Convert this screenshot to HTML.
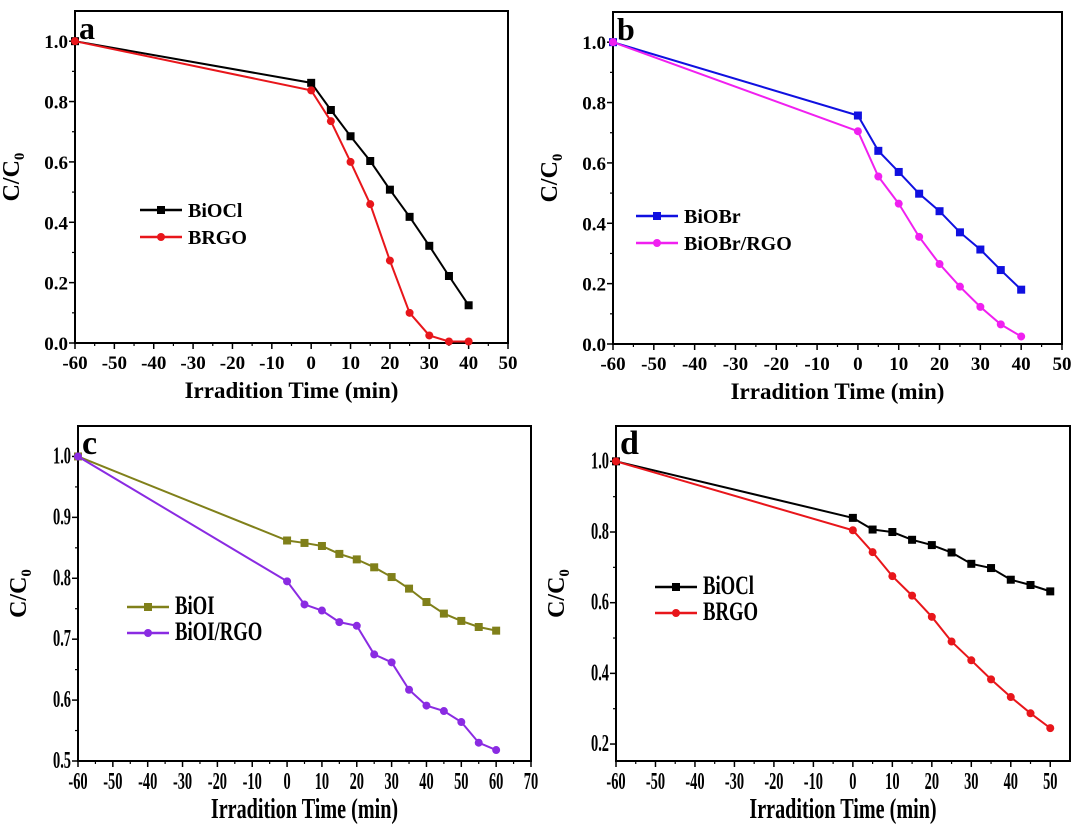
<!DOCTYPE html>
<html><head><meta charset="utf-8"><style>
html,body{margin:0;padding:0;background:#fff;}
svg{display:block;font-family:"Liberation Serif",serif;font-weight:bold;}
</style></head><body>
<svg id="fig" width="1080" height="826" viewBox="0 0 1080 826" xmlns="http://www.w3.org/2000/svg"></svg>
<script>
const xA=[-60,0,5,10,15,20,25,30,35,40];
const aBiOCl=[1,.862,.772,.685,.603,.508,.418,.322,.222,.125];
const aBRGO=[1,.837,.735,.6,.46,.273,.1,.025,.005,.005];
const bBiOBr=[1,.757,.64,.57,.498,.44,.37,.313,.245,.18];
const bBiOBrRGO=[1,.705,.555,.465,.355,.265,.19,.123,.065,.025];
const xC=[-60,0,5,10,15,20,25,30,35,40,45,50,55,60];
const cBiOI=[1,.862,.858,.853,.84,.831,.818,.802,.783,.761,.742,.73,.72,.714];
const cBiOIRGO=[1,.795,.757,.747,.728,.722,.675,.662,.617,.591,.582,.564,.53,.518];
const xD=[-60,0,5,10,15,20,25,30,35,40,45,50];
const dBiOCl=[1,.84,.807,.8,.778,.763,.742,.71,.698,.665,.65,.632];
const dBRGO=[1,.805,.743,.675,.62,.56,.49,.437,.383,.333,.287,.245];
const xTicksAB=[-60,-50,-40,-30,-20,-10,0,10,20,30,40,50];
const xTicksC=[-60,-50,-40,-30,-20,-10,0,10,20,30,40,50,60,70];
const xTicksD=[-60,-50,-40,-30,-20,-10,0,10,20,30,40,50];
const yTicksAB=[0,0.2,0.4,0.6,0.8,1.0];
const yTicksC=[0.5,0.6,0.7,0.8,0.9,1.0];
const yTicksD=[0.2,0.4,0.6,0.8,1.0];

const NS="http://www.w3.org/2000/svg";
const svg=document.getElementById('fig');
function mk(tag,attrs,parent,text){const e=document.createElementNS(NS,tag);for(const k in attrs)e.setAttribute(k,attrs[k]);if(text!==undefined)e.textContent=text;(parent||svg).appendChild(e);return e;}

function panel(p){
  const g=mk('g',{});
  
  
  const sx=v=>p.x0+(v-p.xmin)/(p.xmax-p.xmin)*(p.x1-p.x0);
  const sy=v=>p.y1-(v-p.ymin)/(p.ymax-p.ymin)*(p.y1-p.y0);
  const fr=mk('rect',{x:p.x0,y:p.y0,width:p.x1-p.x0,height:p.y1-p.y0,fill:'none',stroke:'#000','stroke-width':2},g);
  
  
  const sc=p.cond?'scale(0.6,1)':'';
  p.xt.forEach((t,i)=>{
    const x=sx(t);
    mk('line',{x1:x,x2:x,y1:p.y1,y2:p.y1+6,stroke:'#000','stroke-width':1.5},g);
    if(i<p.xt.length-1){const xm=sx(t+5);mk('line',{x1:xm,x2:xm,y1:p.y1,y2:p.y1+3,stroke:'#000','stroke-width':1.2},g);}
    const tx=mk('text',{x:0,y:0,'font-size':p.fs,'text-anchor':'middle',transform:`translate(${x},${p.y1+(p.cond?28:26)}) ${sc}`},g,String(t));
    
    
  });
  p.yt.forEach((t,i)=>{
    const y=sy(t);
    mk('line',{x1:p.x0,x2:p.x0-6,y1:y,y2:y,stroke:'#000','stroke-width':1.5},g);
    const ym=sy(t+p.ystep/2);
    if(ym>p.y0)mk('line',{x1:p.x0,x2:p.x0-3,y1:ym,y2:ym,stroke:'#000','stroke-width':1.2},g);
    const tx=mk('text',{x:0,y:0,'font-size':p.fs,'text-anchor':'end',transform:`translate(${p.x0-7},${y+7}) ${sc}`},g,t.toFixed(1));
    
    
  });
  const xt=mk('text',{x:0,y:0,'font-size':p.cond?28:23,'text-anchor':'middle',transform:`translate(${(p.x0+p.x1)/2},${p.y1+(p.cond?57:55)}) ${p.cond?'scale(0.72,1)':''}`},g,'Irradition Time (min)');
  
  
  const yt=mk('text',{x:0,y:0,'font-size':24,'text-anchor':'middle',transform:`translate(${p.x0-(p.cond?52:56)},${(p.y0+p.y1)/2}) rotate(-90)`},g);
  
  
  mk('tspan',{},yt,'C/C');mk('tspan',{'font-size':15,dy:5},yt,'0');
  const lt=mk('text',{x:p.x0+4,y:p.y0+28,'font-size':p.cond?34:32},g,p.letter);
  
  
  p.series.forEach((s,k)=>{
    const pts=s.ys.map((v,i)=>sx(p.xs[i])+','+sy(v)).join(' ');
    const pl=mk('polyline',{points:pts,fill:'none',stroke:s.c,'stroke-width':2},g);
    
    
    s.ys.forEach((v,i)=>{
      const x=sx(p.xs[i]),y=sy(v);
      const m=s.sq?mk('rect',{x:x-4,y:y-4,width:8,height:8,fill:s.c},g):mk('circle',{cx:x,cy:y,r:4,fill:s.c},g);
      
      
    });
    const ly=p.ly+k*p.lgap;
    mk('line',{x1:p.lx,x2:p.lx+42,y1:ly,y2:ly,stroke:s.c,'stroke-width':2.5},g);
    if(s.sq)mk('rect',{x:p.lx+17,y:ly-4,width:8,height:8,fill:s.c},g);else mk('circle',{cx:p.lx+21,cy:ly,r:4,fill:s.c},g);
    const le=mk('text',{x:0,y:0,'font-size':p.cond?26:20,transform:`translate(${p.lx+48},${ly+7}) ${p.cond?'scale(0.72,1)':''}`},g,s.n);
    
    
  });
}
panel({letter:'a',x0:75,x1:508,y0:11,y1:343,xmin:-60,xmax:50,ymin:0,ymax:1.1,ystep:0.2,xt:xTicksAB,yt:yTicksAB,fs:19,xs:xA,
  lx:140,ly:210,lgap:27,series:[{n:'BiOCl',ys:aBiOCl,c:'#000',sq:true},{n:'BRGO',ys:aBRGO,c:'#e8161b'}]});
panel({letter:'b',x0:613,x1:1062,y0:12,y1:344,xmin:-60,xmax:50,ymin:0,ymax:1.1,ystep:0.2,xt:xTicksAB,yt:yTicksAB,fs:19,xs:xA,
  lx:636,ly:216,lgap:27,series:[{n:'BiOBr',ys:bBiOBr,c:'#1010e0',sq:true},{n:'BiOBr/RGO',ys:bBiOBrRGO,c:'#f020f0'}]});
panel({letter:'c',x0:78,x1:531,y0:426,y1:761,xmin:-60,xmax:70,ymin:0.5,ymax:1.05,ystep:0.1,xt:xTicksC,yt:yTicksC,fs:24,cond:true,xs:xC,
  lx:127,ly:607,lgap:26,series:[{n:'BiOI',ys:cBiOI,c:'#80801a',sq:true},{n:'BiOI/RGO',ys:cBiOIRGO,c:'#8a2be2'}]});
panel({letter:'d',x0:616,x1:1070,y0:426,y1:761,xmin:-60,xmax:55,ymin:0.152,ymax:1.1,ystep:0.2,xt:xTicksD,yt:yTicksD,fs:24,cond:true,xs:xD,
  lx:655,ly:587,lgap:26,series:[{n:'BiOCl',ys:dBiOCl,c:'#000',sq:true},{n:'BRGO',ys:dBRGO,c:'#e8161b'}]});
</script>
</body></html>
